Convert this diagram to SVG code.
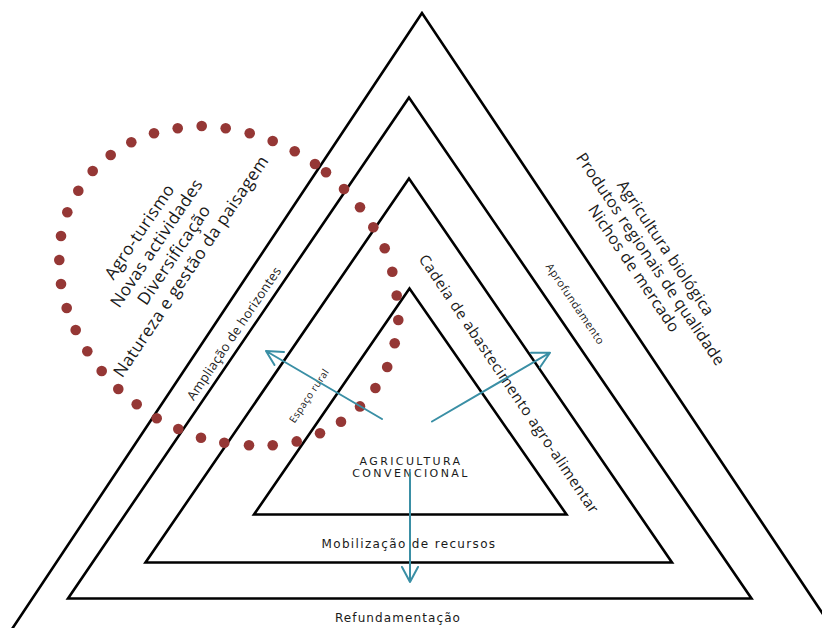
<svg xmlns="http://www.w3.org/2000/svg" width="822" height="628" viewBox="0 0 822 628">
<style>
.tri{fill:none;stroke:#000;stroke-width:2.6;stroke-linejoin:miter}
.dot{fill:#953735}
.arr{fill:none;stroke:#3a8fa5;stroke-width:2;stroke-linecap:round;stroke-linejoin:round}
.os{font-family:"Open Sans","DejaVu Sans",sans-serif;fill:#1a1a1a;text-anchor:middle}
.dv{font-family:"DejaVu Sans","Verdana",sans-serif;fill:#1a1a1a;text-anchor:middle}
</style>
<rect width="822" height="628" fill="#fff"/>
<g id="refundamentacao">
<polygon class="tri" points="422,13 -8.6,660 853.6,660"/>
<text class="dv" x="398" y="622" font-size="12" letter-spacing="1.1">Refundamentação</text>
</g>
<g id="mobilizacao">
<polygon class="tri" points="409,97.5 68,598.5 751.5,598.5"/>
<text class="dv" x="409" y="548" font-size="12" letter-spacing="1.35">Mobilização de recursos</text>
</g>
<g id="cadeia">
<polygon class="tri" points="409,178.5 145.5,562.5 672,562.5"/>
</g>
<g id="agricultura-convencional">
<polygon class="tri" points="409.5,288.5 254,514.5 566.5,514.5"/>
<text class="dv" x="411" y="465" font-size="11" letter-spacing="2.4">AGRICULTURA</text>
<text class="dv" x="411" y="477" font-size="11" letter-spacing="2.4">CONVENCIONAL</text>
</g>
<g id="espaco-rural-circulo">
<circle class="dot" cx="201.7" cy="126" r="5.3"/>
<circle class="dot" cx="225.7" cy="128.3" r="5.3"/>
<circle class="dot" cx="177.7" cy="128.3" r="5.3"/>
<circle class="dot" cx="154" cy="133.3" r="5.3"/>
<circle class="dot" cx="249.7" cy="133.3" r="5.3"/>
<circle class="dot" cx="131.3" cy="142.3" r="5.3"/>
<circle class="dot" cx="272.7" cy="141" r="5.3"/>
<circle class="dot" cx="110.7" cy="155" r="5.3"/>
<circle class="dot" cx="294.7" cy="151.3" r="5.3"/>
<circle class="dot" cx="92.7" cy="171" r="5.3"/>
<circle class="dot" cx="315" cy="164" r="5.3"/>
<circle class="dot" cx="326" cy="172.3" r="5.3"/>
<circle class="dot" cx="78.3" cy="190.7" r="5.3"/>
<circle class="dot" cx="344" cy="189" r="5.3"/>
<circle class="dot" cx="67.3" cy="212.3" r="5.3"/>
<circle class="dot" cx="360" cy="207.3" r="5.3"/>
<circle class="dot" cx="61" cy="236" r="5.3"/>
<circle class="dot" cx="373.3" cy="227.3" r="5.3"/>
<circle class="dot" cx="59.3" cy="260" r="5.3"/>
<circle class="dot" cx="384.7" cy="248.3" r="5.3"/>
<circle class="dot" cx="61" cy="284" r="5.3"/>
<circle class="dot" cx="392.3" cy="271.7" r="5.3"/>
<circle class="dot" cx="66.7" cy="308" r="5.3"/>
<circle class="dot" cx="396.7" cy="295.5" r="5.3"/>
<circle class="dot" cx="75.7" cy="330" r="5.3"/>
<circle class="dot" cx="398.3" cy="320" r="5.3"/>
<circle class="dot" cx="87.3" cy="351.3" r="5.3"/>
<circle class="dot" cx="394.7" cy="343.3" r="5.3"/>
<circle class="dot" cx="101.7" cy="371" r="5.3"/>
<circle class="dot" cx="387.2" cy="367" r="5.3"/>
<circle class="dot" cx="118.3" cy="389" r="5.3"/>
<circle class="dot" cx="375.4" cy="388" r="5.3"/>
<circle class="dot" cx="136.7" cy="404.3" r="5.3"/>
<circle class="dot" cx="360" cy="406.4" r="5.3"/>
<circle class="dot" cx="156.7" cy="418.3" r="5.3"/>
<circle class="dot" cx="341" cy="421.7" r="5.3"/>
<circle class="dot" cx="178.3" cy="429" r="5.3"/>
<circle class="dot" cx="320" cy="433.3" r="5.3"/>
<circle class="dot" cx="201" cy="437.7" r="5.3"/>
<circle class="dot" cx="296.7" cy="441.4" r="5.3"/>
<circle class="dot" cx="224.3" cy="442.7" r="5.3"/>
<circle class="dot" cx="249" cy="445.3" r="5.3"/>
<circle class="dot" cx="272.7" cy="445.3" r="5.3"/>
</g>
<g id="textos-esquerda" transform="rotate(-56)">
<text class="os" x="-114" y="251" font-size="17" letter-spacing="0.5">Agro-turismo</text>
<text class="os" x="-114" y="271.5" font-size="17" letter-spacing="0.5">Novas actividades</text>
<text class="os" x="-114" y="292.5" font-size="17" letter-spacing="0.5">Diversificação</text>
<text class="os" x="-114" y="313" font-size="17" letter-spacing="0.5">Natureza e gestão da paisagem</text>
<text class="os" x="-145.4" y="385" font-size="13" letter-spacing="0.35">Ampliação de horizontes</text>
<text class="os" x="-155.3" y="481" font-size="10" letter-spacing="0.4" fill="#333">Espaço rural</text>
</g>
<g id="textos-direita" transform="rotate(56)">
<text class="os" x="578" y="-407.6" font-size="16" letter-spacing="0.35">Agricultura biológica</text>
<text class="os" x="578.7" y="-389" font-size="16" letter-spacing="0.35">Produtos regionais de qualidade</text>
<text class="os" x="577" y="-370" font-size="16" letter-spacing="0.35">Nichos de mercado</text>
<text class="os" x="603" y="-202" font-size="15" letter-spacing="0.65">Cadeia de abastecimento agro-alimentar</text>
<text class="os" x="573.6" y="-303" font-size="11" letter-spacing="0.5">Aprofundamento</text>
</g>
<g id="connectors">
<path class="arr" d="M382,419 L266,351 M284,352 L266,351 L274.5,365"/>
<path class="arr" d="M432,421.5 L550,352.7 M531,352.7 L550,352.7 L540,367.3"/>
<path class="arr" d="M410,473 L410,582 M402,567 L410,582 L418,567"/>
</g>
</svg>
